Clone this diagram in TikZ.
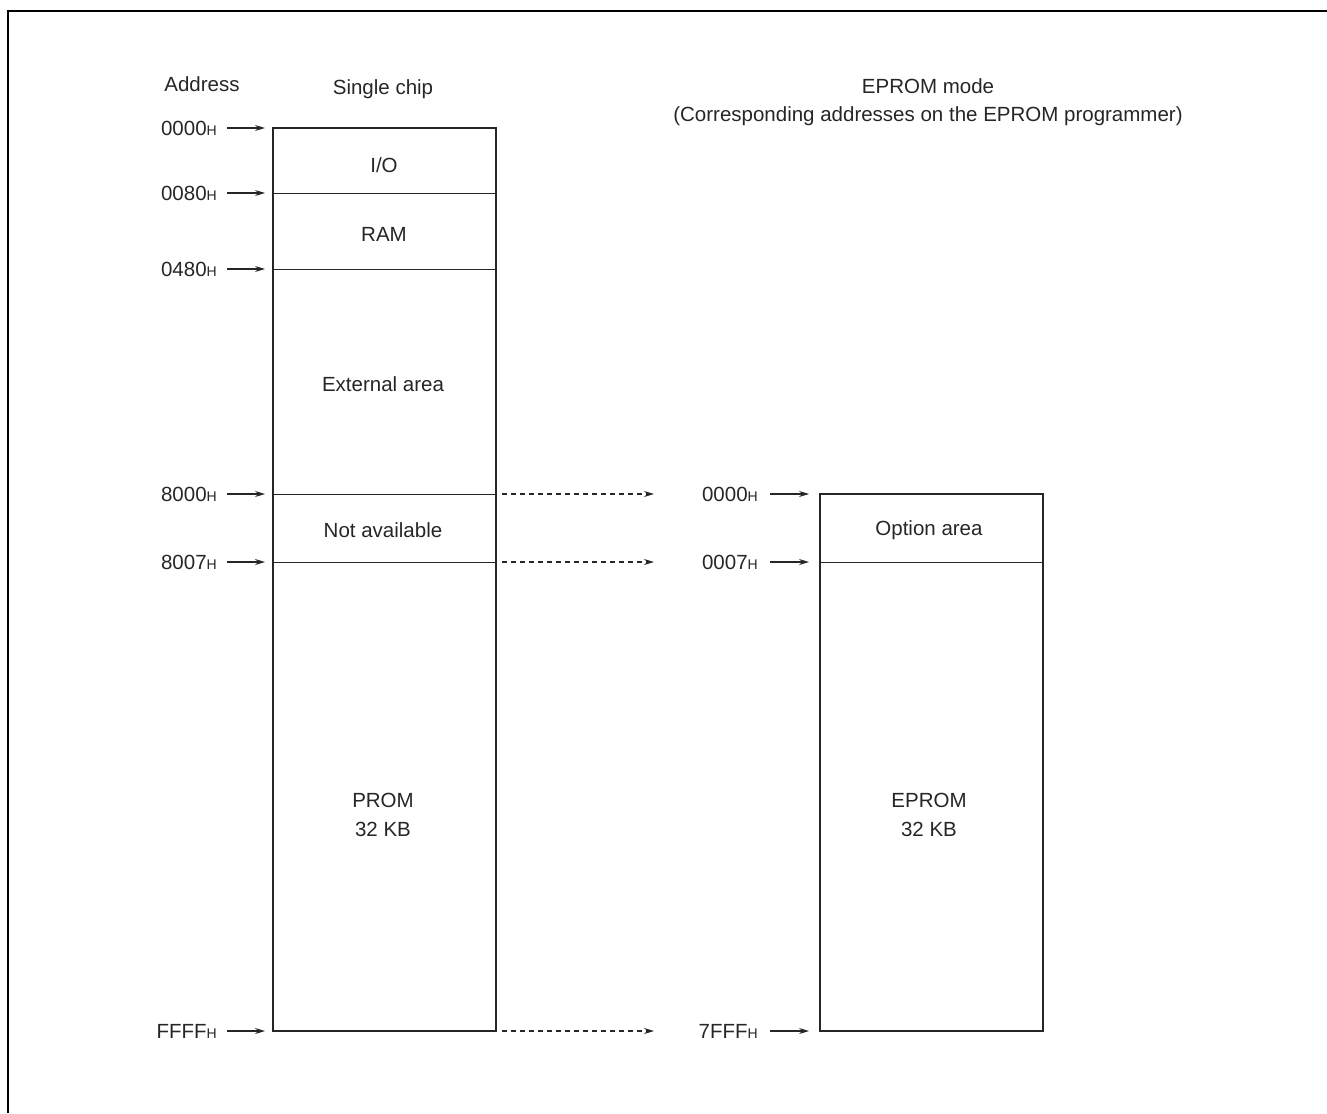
\documentclass[tikz,border=0pt]{standalone}
\usepackage{fontspec}
\setmainfont{Liberation Sans}
\usetikzlibrary{arrows.meta}
\newcommand{\hx}{{\fontsize{14}{14}\selectfont H}}
\begin{document}
\begin{tikzpicture}[x=1pt,y=-1pt,
  txt/.style={font=\fontsize{20.5}{24}\selectfont, text=black!85, inner sep=0pt},
  addr/.style={txt, anchor=east},
  memline/.style={line width=2.6pt, draw=black!85},
  divline/.style={line width=1pt, draw=black!85},
  addrarrow/.style={line width=1.2pt, draw=black!85, -{Stealth[length=10pt,width=6pt]}},
  maparrow/.style={line width=1.2pt, draw=black!85, dash pattern=on 5pt off 4pt, -{Stealth[length=10pt,width=6pt]}}]
\useasboundingbox (0,0) rectangle (1327,1113);
% frame (only top and left visible)
\draw[line width=1.4pt] (8,1113) -- (8,11) -- (1327,11);

% left memory box
\coordinate (L0) at (273,128);
\coordinate (L1) at (273,193);
\coordinate (L2) at (273,269);
\coordinate (L3) at (273,494);
\coordinate (L4) at (273,562);
\coordinate (L5) at (273,1031);
\coordinate (LR3) at (496,494);
\coordinate (LR4) at (496,562);
\coordinate (LR5) at (496,1031);
\draw[divline] (273,193) -- (496,193);
\draw[divline] (273,269) -- (496,269);
\draw[divline] (L3) -- (LR3);
\draw[divline] (L4) -- (LR4);
\draw[memline] (273,128) rectangle (496,1031);

% right memory box
\coordinate (R0) at (820,494);
\coordinate (R1) at (820,562);
\coordinate (R2) at (820,1031);
\draw[divline] (820,562) -- (1043,562);
\draw[memline] (820,494) rectangle (1043,1031);

% mapping arrow end points
\coordinate (M3) at (654,494);
\coordinate (M4) at (654,562);
\coordinate (M5) at (654,1031);

% headings
\node[txt] (haddr) at (202,84) {Address};
\node[txt] (hsingle) at (383,89) {Single chip};
\node[txt, align=center] (heprom) at (928,102) {EPROM mode\\[4pt](Corresponding addresses on the EPROM programmer)};

% region labels
\node[txt] (io) at (384,165) {I/O};
\node[txt] (ram) at (384,234) {RAM};
\node[txt] (ext) at (383,384) {External area};
\node[txt] (na) at (383,530) {Not available};
\node[txt, align=center] (prom) at (383,815) {PROM\\[5pt]32 KB};
\node[txt] (opt) at (929,530) {Option area};
\node[txt, align=center] (eprom) at (929,815) {EPROM\\[5pt]32 KB};

% address labels left
\node[addr] (a0) at (217,128) {0000\hx};
\node[addr] (a1) at (217,193) {0080\hx};
\node[addr] (a2) at (217,269) {0480\hx};
\node[addr] (a3) at (217,494) {8000\hx};
\node[addr] (a4) at (217,562) {8007\hx};
\node[addr] (a5) at (217,1031) {FFFF\hx};
\foreach \i in {0,...,5} {
  \draw[addrarrow] ([xshift=10pt]a\i.east) -- ([xshift=-8pt]L\i);
}

% address labels right
\node[addr] (b0) at (758,494) {0000\hx};
\node[addr] (b1) at (758,562) {0007\hx};
\node[addr] (b2) at (758,1031) {7FFF\hx};
\foreach \i in {0,1,2} {
  \draw[addrarrow] ([xshift=12pt]b\i.east) -- ([xshift=-11pt]R\i);
}

% mapping arrows
\draw[maparrow] ([xshift=6pt]LR3) -- (M3);
\draw[maparrow] ([xshift=6pt]LR4) -- (M4);
\draw[maparrow] ([xshift=6pt]LR5) -- (M5);
\end{tikzpicture}
\end{document}
